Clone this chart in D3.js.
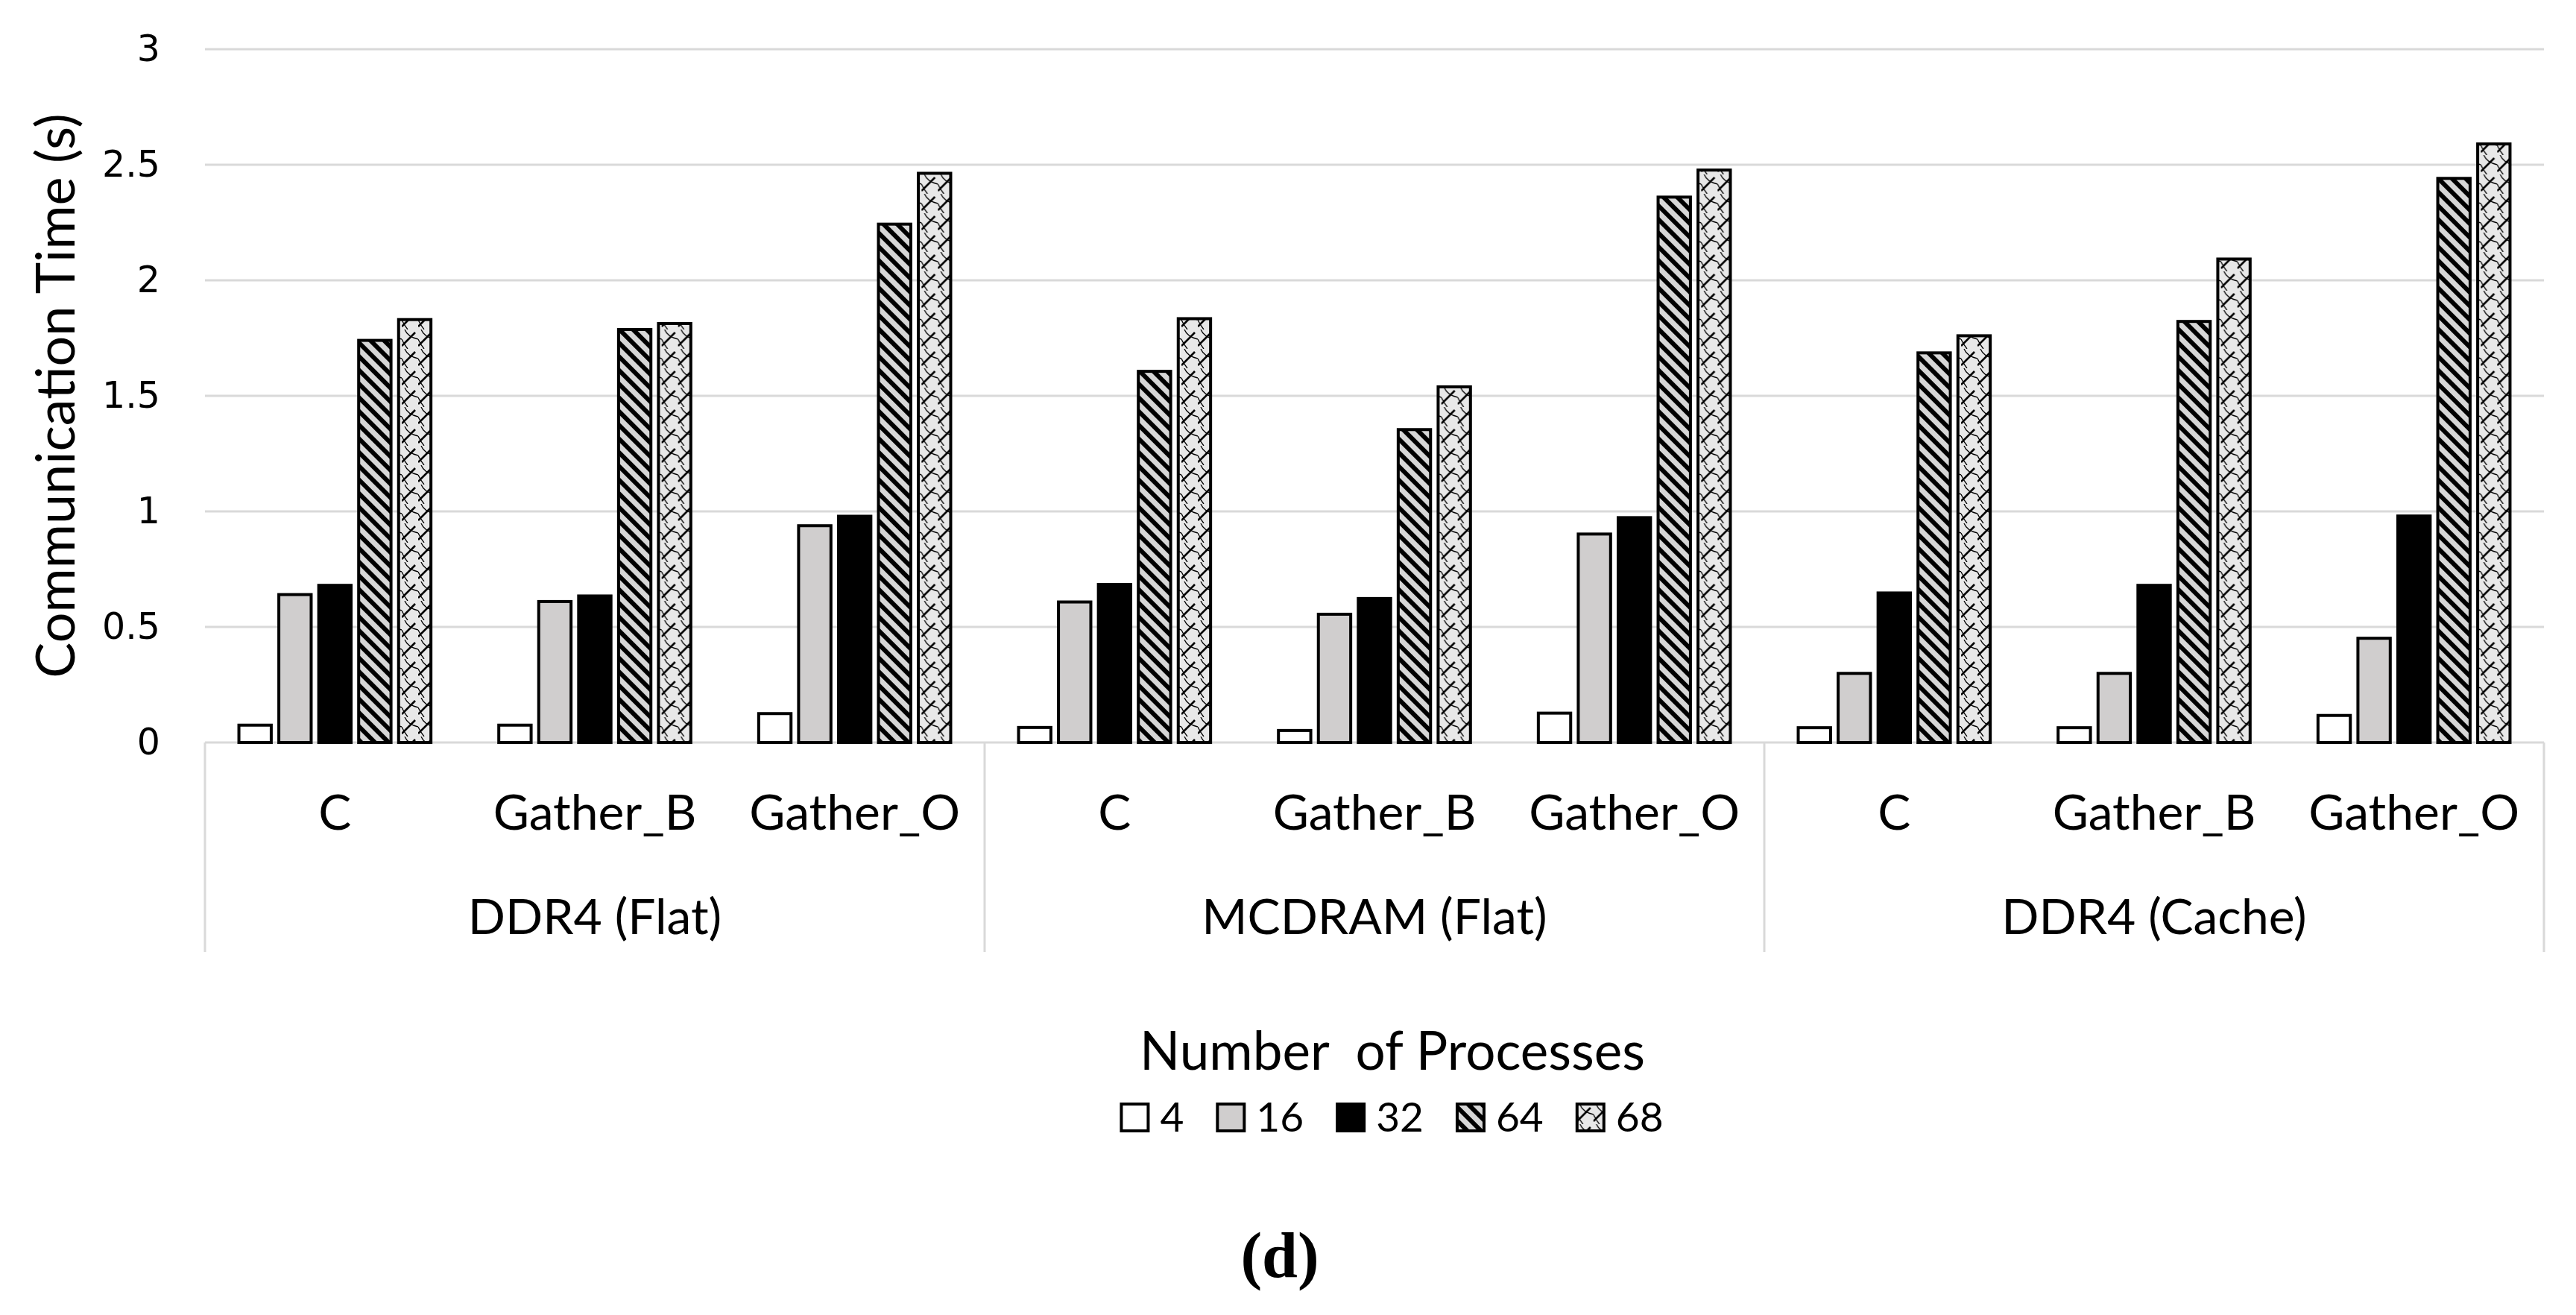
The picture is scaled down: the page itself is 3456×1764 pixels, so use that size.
<!DOCTYPE html>
<html>
<head>
<meta charset="utf-8">
<script src="https://cdn.jsdelivr.net/npm/d3@7"></script>
<style>
  body { margin: 0; background: #fff; }
  text { font-family: Lato, "Open Sans", sans-serif; fill: #000; }
</style>
</head>
<body>
<script>
// categories
const groups = ['DDR4 (Flat)', 'MCDRAM (Flat)', 'DDR4 (Cache)'];
const methods = ['C', 'Gather_B', 'Gather_O'];
const seriesNames = ['4', '16', '32', '64', '68'];

// values, one per (group, method) in order
const p4  = [0.075, 0.075, 0.125, 0.065, 0.052, 0.127, 0.064, 0.064, 0.117];
const p16 = [0.64, 0.61, 0.938, 0.608, 0.555, 0.902, 0.299, 0.299, 0.451];
const p32 = [0.68, 0.634, 0.979, 0.684, 0.623, 0.973, 0.647, 0.68, 0.98];
const p64 = [1.74, 1.787, 2.243, 1.606, 1.354, 2.36, 1.686, 1.822, 2.441];
const p68 = [1.83, 1.813, 2.463, 1.834, 1.539, 2.477, 1.76, 2.092, 2.59];

const yTicks = [0, 0.5, 1, 1.5, 2, 2.5, 3];

const width = 3456, height = 1764;
const margin = { top: 66, bottom: 768, left: 275, right: 43 };

const allSeries = [p4, p16, p32, p64, p68];
const cats = [];
groups.forEach(g => methods.forEach(m => cats.push(g + '|' + m)));
const rows = cats.map((c, i) => ({
  key: c,
  values: seriesNames.map((s, j) => ({ s: s, v: allSeries[j][i] }))
}));

const svg = d3.select('body').append('svg')
  .attr('width', width).attr('height', height)
  .style('background', '#fff');

// patterns
const defs = svg.append('defs');
const diag = defs.append('pattern')
  .attr('id', 'diag').attr('patternUnits', 'userSpaceOnUse')
  .attr('width', 13).attr('height', 13)
  .attr('patternTransform', 'rotate(-45)');
diag.append('rect').attr('width', 13).attr('height', 13).attr('fill', '#d6d6d6');
diag.append('rect').attr('width', 6).attr('height', 13).attr('fill', '#000');

const shingle = defs.append('pattern')
  .attr('id', 'shingle').attr('patternUnits', 'userSpaceOnUse')
  .attr('width', 22).attr('height', 26);
shingle.append('rect').attr('width', 22).attr('height', 26).attr('fill', '#e8e8e8');
shingle.append('path').attr('d', 'M0,22 L18,4')
  .attr('stroke', '#000').attr('stroke-width', 2.6).attr('fill', 'none');
shingle.append('path').attr('d', 'M4,0 Q8,10 22,13 M0,13 Q3,20 8,26')
  .attr('stroke', '#000').attr('stroke-width', 1.3).attr('fill', 'none');

const fills = {
  '4': '#ffffff',
  '16': '#d0cece',
  '32': '#000000',
  '64': 'url(#diag)',
  '68': 'url(#shingle)'
};

const yscale = d3.scaleLinear()
  .domain([0, 3])
  .range([height - margin.bottom, margin.top]);

const xscale = d3.scaleBand()
  .domain(cats)
  .range([margin.left, width - margin.right]);

const xgroup = d3.scaleBand()
  .domain(groups)
  .range([margin.left, width - margin.right]);

const xinner = d3.scaleBand()
  .domain(seriesNames)
  .range([0, xscale.bandwidth()])
  .paddingInner(0.19)
  .paddingOuter(0.85);

// gridlines
svg.append('g').selectAll('line')
  .data(yTicks)
  .enter().append('line')
  .attr('x1', margin.left).attr('x2', width - margin.right)
  .attr('y1', d => yscale(d)).attr('y2', d => yscale(d))
  .attr('stroke', '#d9d9d9').attr('stroke-width', 3);

// y axis labels
const yaxis = svg.append('g')
  .attr('transform', `translate(${margin.left}, 0)`)
  .call(d3.axisLeft(yscale).tickValues(yTicks).tickSize(0).tickPadding(60).tickFormat(d => String(d)));
yaxis.select('.domain').remove();
yaxis.selectAll('text')
  .style('font-family', '"DejaVu Sans", sans-serif')
  .style('font-size', '49px')
  .attr('fill', '#000');

// group separators under the axis
const boundaries = groups.map(g => xgroup(g)).concat([width - margin.right]);
svg.append('g').selectAll('line')
  .data(boundaries)
  .enter().append('line')
  .attr('x1', d => d).attr('x2', d => d)
  .attr('y1', yscale(0)).attr('y2', 1277)
  .attr('stroke', '#d9d9d9').attr('stroke-width', 3);

// bars
const gcat = svg.append('g').selectAll('g')
  .data(rows)
  .enter().append('g')
  .attr('transform', d => `translate(${xscale(d.key)}, 0)`);

gcat.selectAll('rect')
  .data(d => d.values)
  .enter().append('rect')
  .attr('x', d => xinner(d.s))
  .attr('y', d => yscale(d.v))
  .attr('width', xinner.bandwidth())
  .attr('height', d => yscale(0) - yscale(d.v))
  .attr('fill', d => fills[d.s])
  .attr('stroke', '#000')
  .attr('stroke-width', 4);

// category labels
svg.append('g').selectAll('text')
  .data(cats)
  .enter().append('text')
  .attr('x', d => xscale(d) + xscale.bandwidth() / 2)
  .attr('y', 1113)
  .attr('text-anchor', 'middle')
  .style('font-size', '66px')
  .text(d => d.split('|')[1]);

svg.append('g').selectAll('text')
  .data(groups)
  .enter().append('text')
  .attr('x', d => xgroup(d) + xgroup.bandwidth() / 2)
  .attr('y', 1253)
  .attr('text-anchor', 'middle')
  .style('font-size', '66px')
  .text(d => d);

// y title
svg.append('text')
  .attr('transform', `translate(100, ${(yscale(0) + yscale(3)) / 2}) rotate(-90)`)
  .attr('text-anchor', 'middle')
  .style('font-size', '72px')
  .text('Communication Time (s)');

// legend
const legendCx = 1868;
svg.append('text')
  .attr('x', legendCx).attr('y', 1435)
  .attr('text-anchor', 'middle')
  .style('font-size', '71px')
  .text('Number\u00a0 of Processes');

const legend = svg.append('g');
const items = legend.selectAll('g')
  .data(seriesNames)
  .enter().append('g');
items.append('rect')
  .attr('width', 36).attr('height', 36)
  .attr('y', 1481)
  .attr('fill', d => fills[d])
  .attr('stroke', '#000').attr('stroke-width', 4);
items.append('text')
  .attr('x', 52).attr('y', 1518)
  .style('font-size', '55px')
  .text(d => d);
let cx = 0;
items.each(function () {
  const w = 52 + this.querySelector('text').getComputedTextLength();
  d3.select(this).attr('data-off', cx);
  cx += w + 45;
});
const totalW = cx - 45;
items.attr('transform', function () {
  return `translate(${legendCx - totalW / 2 + (+this.getAttribute('data-off'))}, 0)`;
});

// panel label
svg.append('text')
  .attr('x', 1717).attr('y', 1713)
  .attr('text-anchor', 'middle')
  .style('font-family', '"Liberation Serif", serif')
  .style('font-weight', 'bold')
  .style('font-size', '86px')
  .text('(d)');
</script>
</body>
</html>
